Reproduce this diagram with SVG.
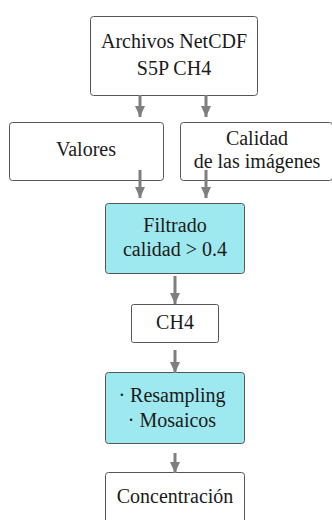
<svg xmlns="http://www.w3.org/2000/svg" width="332" height="520" viewBox="0 0 332 520">
<defs>
<marker id="ah" markerUnits="userSpaceOnUse" markerWidth="12" markerHeight="14" refX="11" refY="6" orient="auto">
<path d="M0,1 L11,6 L0,11 Z" fill="#7f7f7f"/>
</marker>
<style>
.box{fill:#ffffff;stroke:#555555;stroke-width:1}
.hl{fill:#9ee9ef;stroke:#555555;stroke-width:1}
.t{font-size:20px;fill:#1a1a1a;text-anchor:middle}
.c{stroke:#7f7f7f;stroke-width:3;fill:none;marker-end:url(#ah)}
</style>
</defs>
<rect width="332" height="520" fill="#ffffff"/>
<g font-family="Liberation Serif, DejaVu Serif, serif">
<g id="n1"><rect class="box" x="90.5" y="16.5" width="167" height="79" rx="3"/><text class="t" x="174" y="48">Archivos NetCDF</text><text class="t" x="174" y="75">S5P CH4</text></g>
<g id="n2"><rect class="box" x="9.5" y="122.5" width="154" height="58" rx="3"/><text class="t" x="86" y="156">Valores</text></g>
<g id="n3"><rect class="box" x="180.5" y="122.5" width="152" height="58" rx="3"/><text class="t" x="257" y="145">Calidad</text><text class="t" x="257" y="168">de las imágenes</text></g>
<g id="n4"><rect class="hl" x="105.5" y="203.5" width="139" height="70" rx="3"/><text class="t" x="175" y="232">Filtrado</text><text class="t" x="175" y="256">calidad &gt; 0.4</text></g>
<g id="n5"><rect class="box" x="131.5" y="304.5" width="87" height="38" rx="2"/><text class="t" x="175" y="329">CH4</text></g>
<g id="n6"><rect class="hl" x="105.5" y="372.5" width="139" height="71" rx="3"/><text class="t" x="172" y="402">· Resampling</text><text class="t" x="172" y="427">· Mosaicos</text></g>
<g id="n7"><rect class="box" x="105.5" y="472.5" width="139" height="60" rx="3"/><text class="t" x="175" y="503">Concentración</text></g>
</g>
<g id="connectors">
<line class="c" x1="140" y1="95" x2="140" y2="117"/>
<line class="c" x1="206" y1="95" x2="206" y2="117"/>
<line class="c" x1="140" y1="170" x2="140" y2="198"/>
<line class="c" x1="206" y1="170" x2="206" y2="198"/>
<line class="c" x1="175" y1="276" x2="175" y2="304"/>
<line class="c" x1="175" y1="350" x2="175" y2="373"/>
<line class="c" x1="175" y1="453" x2="175" y2="473"/>
</g>
</svg>
